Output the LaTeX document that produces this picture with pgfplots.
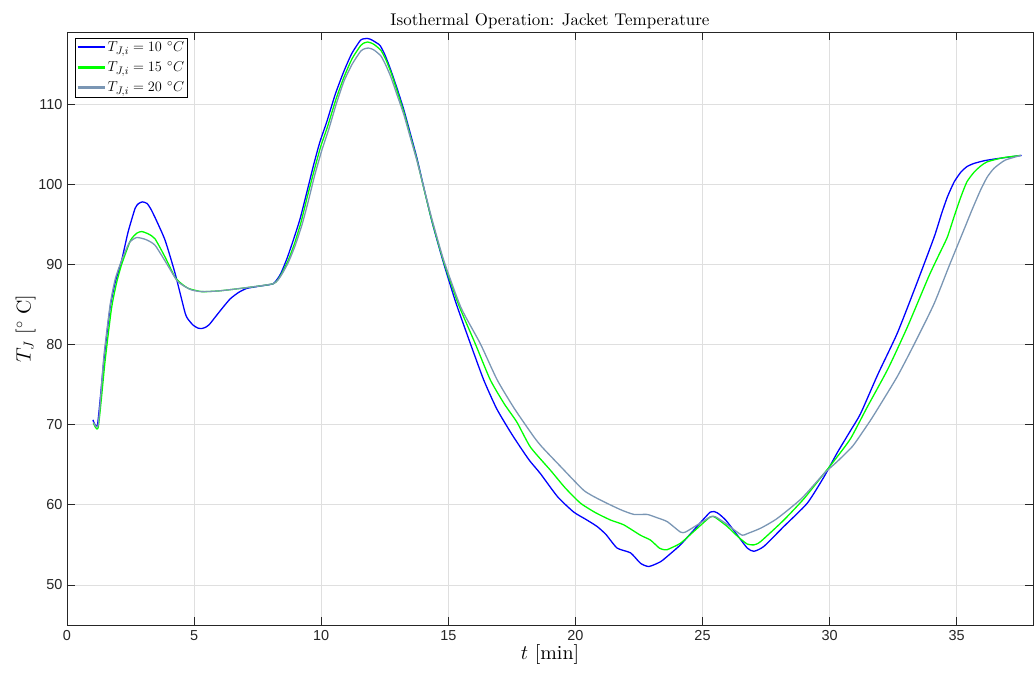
\documentclass[border=0pt]{standalone}
\usepackage{pgfplots}
\pgfplotsset{compat=1.18}
\usepackage{fontspec}
\setmainfont{lmroman10-regular.otf}[ItalicFont=lmroman10-italic.otf, BoldFont=lmroman10-bold.otf]
\newfontfamily\ticksf{Liberation Sans}
\definecolor{axgray}{RGB}{38,38,38}
\definecolor{gridc}{RGB}{223,223,223}
\definecolor{sgray}{RGB}{122,150,180}
\begin{document}
\begin{tikzpicture}
\useasboundingbox (-67bp,-48bp) rectangle (967bp,625bp);
\begin{axis}[
  at={(0,0)}, anchor=south west,
  width=966bp, height=593bp, scale only axis,
  xmin=0, xmax=38, ymin=45, ymax=119,
  xtick={0,5,...,35}, ytick={50,60,...,110},
  grid=major, major grid style={gridc, line width=0.6bp},
  axis line style={axgray, line width=0.6bp},
  tick style={axgray, line width=0.6bp},
  major tick length=8bp,
  tick align=inside,
  xtick pos=both, ytick pos=both,
  /pgf/number format/assume math mode=true,
  ticklabel style={font=\ticksf\fontsize{14.5}{15}\selectfont, text=axgray},
  xticklabel style={yshift=-2bp},
  yticklabel style={xshift=-1bp},
  title={Isothermal Operation: Jacket Temperature},
  title style={font=\fontsize{17}{18}\selectfont, yshift=-6bp},
  xlabel={$t$ [min]},
  ylabel={$T_J$ [$^\circ$ C]},
  xlabel style={font=\fontsize{20}{21}\selectfont, yshift=3bp},
  ylabel style={font=\fontsize{20}{21}\selectfont, yshift=-4bp},
  legend style={font=\fontsize{15.5}{16}\selectfont,
    inner sep=1.5bp, row sep=4.5bp, nodes={inner sep=2bp},
    at={(0.008,0.99)}, anchor=north west},
  legend cell align=left,
  legend image code/.code={\draw[#1, line width=2.2bp] (0bp,0bp) -- (27bp,0bp);},
]
\addplot[blue, line width=1.3bp, smooth, tension=0.35] coordinates {
(1.02,70.6)(1.2,70.0)(1.45,78)(1.7,84.7)(1.9,87.8)(2.15,90.5)(2.4,94.0)(2.68,97.0)(2.82,97.6)(2.97,97.8)(3.15,97.6)
(3.3,96.9)(3.5,95.6)(3.86,93.0)(4.25,88.9)(4.65,83.9)(4.8,83.0)(4.97,82.4)(5.15,82.05)(5.3,82.0)(5.45,82.15)(5.6,82.5)(5.8,83.3)
(6.1,84.5)(6.42,85.7)(6.75,86.5)(7.07,87.0)(7.6,87.3)(8.12,87.6)(8.4,88.8)(8.65,90.7)
(8.9,93.0)(9.17,95.7)(9.45,99.2)(9.7,102.4)(9.95,105.3)(10.22,107.8)(10.55,111.2)(10.88,114.0)(11.2,116.3)(11.54,117.96)(11.68,118.15)(11.8,118.2)(11.93,118.1)(12.05,117.9)
(12.2,117.6)(12.32,117.3)(12.5,116.2)(12.72,114.4)(13.0,111.8)(13.24,109.4)(13.5,106.4)(13.77,103.2)(14.05,99.4)(14.36,95.3)(14.82,90.1)(15.3,85.2)
(15.87,80.1)(16.39,75.6)(16.9,72.0)(17.44,69.1)(17.83,67.2)(18.2,65.5)(18.62,63.9)(19.3,61.0)
(19.93,59.1)(20.4,58.2)(20.85,57.3)(21.2,56.3)(21.64,54.6)(22.17,54.0)(22.56,52.7)
(22.89,52.3)(23.35,52.9)(23.7,53.8)(24.13,55.0)(24.7,57.0)(25.31,59.1)(25.58,59.0)
(25.91,58.1)(26.3,56.5)(26.76,54.6)(27.02,54.2)(27.41,54.8)(28.2,57.3)(29.12,60.2)
(29.78,63.5)(30.3,66.5)(30.83,69.3)(31.22,71.4)(31.9,76.3)(32.66,81.4)(33.4,87.4)
(34.11,93.4)(34.4,96.3)(34.63,98.4)(34.9,100.3)(35.16,101.5)(35.4,102.2)(35.68,102.6)(36.1,102.95)(36.6,103.2)(37.55,103.6)
};
\addlegendentry{$T_{J,i} = 10\ ^\circ C$}
\addplot[green, line width=1.3bp, smooth, tension=0.35] coordinates {
(1.04,70.2)(1.23,69.7)(1.5,78)(1.75,84.5)(1.95,87.7)(2.15,90.0)(2.5,93.0)(2.75,93.9)(2.94,94.1)(3.2,93.8)
(3.46,93.2)(3.86,90.9)(4.25,88.4)(4.5,87.6)(4.78,87.0)(5.3,86.6)(6.0,86.7)(7.07,87.1)(8.12,87.6)
(8.4,88.6)(8.7,90.5)(8.95,92.6)(9.2,95.2)(9.45,98.4)(9.72,101.7)(9.98,104.7)(10.25,107.2)(10.58,110.6)(10.9,113.4)(11.22,115.7)(11.55,117.3)(11.7,117.65)
(11.82,117.75)(11.95,117.65)(12.1,117.4)(12.35,116.7)(12.55,115.5)(12.75,113.9)(13.0,111.5)(13.25,109.0)(13.5,106.1)(13.77,103.0)(14.05,99.3)
(14.36,95.4)(14.82,90.3)(15.4,85.0)(16.06,80.1)(16.65,75.6)(17.2,72.6)(17.7,70.3)
(18.23,67.2)(19.02,64.3)(19.6,62.1)(20.2,60.2)(20.8,59.0)(21.38,58.1)(21.9,57.5)(22.56,56.2)
(22.95,55.6)(23.3,54.6)(23.48,54.4)(23.61,54.4)(24.13,55.2)(24.7,56.8)(25.31,58.5)
(25.51,58.4)(25.97,57.3)(26.4,56.0)(26.76,55.1)(27.02,55.0)(27.28,55.4)(28.2,58.1)
(29.0,60.8)(29.78,63.9)(30.3,66.0)(30.83,68.3)(31.48,72.2)(32.3,77.0)(33.06,82.2)(33.9,88.5)
(34.3,91.2)(34.63,93.4)(34.9,96.0)(35.16,98.4)(35.4,100.3)(35.68,101.5)(35.95,102.3)(36.2,102.8)(36.8,103.3)(37.52,103.6)
};
\addlegendentry{$T_{J,i} = 15\ ^\circ C$}
\addplot[sgray, line width=1.3bp, smooth, tension=0.35] coordinates {
(1.04,70.3)(1.23,70.0)(1.45,78.5)(1.7,85.0)(1.9,88.2)(2.15,90.5)(2.45,92.7)(2.74,93.35)(3.1,93.1)
(3.46,92.4)(3.92,90.1)(4.32,88.0)(4.6,87.3)(4.91,86.8)(5.3,86.6)(6.0,86.7)(7.07,87.1)(8.12,87.6)
(8.4,88.5)(8.7,90.2)(8.97,92.3)(9.25,95.0)(9.5,98.0)(9.75,101.2)(10.02,104.2)(10.3,106.9)(10.6,110.1)(10.9,112.9)(11.22,115.0)(11.55,116.6)(11.7,116.9)
(11.85,117.0)(11.98,116.9)(12.1,116.7)(12.35,116.0)(12.55,114.8)(12.75,113.3)(13.0,111.0)(13.25,108.7)(13.5,105.9)(13.77,102.9)(14.05,99.4)
(14.36,95.6)(14.82,90.5)(15.5,84.6)(16.26,80.1)(16.92,75.6)(17.6,72.0)(18.36,68.5)
(18.69,67.2)(19.41,64.8)(20.33,61.8)(20.98,60.6)(21.77,59.4)(22.3,58.8)(22.82,58.8)
(23.2,58.4)(23.61,57.9)(24.13,56.6)(24.33,56.6)(24.8,57.5)(25.31,58.5)(25.51,58.5)
(25.9,57.7)(26.23,56.9)(26.56,56.2)(26.76,56.4)(27.3,57.1)(27.94,58.3)(28.9,60.8)
(29.78,63.9)(30.3,65.4)(30.9,67.3)(31.3,69.1)(31.7,71.0)(32.66,76.0)(33.4,80.5)(34.11,85.1)
(34.7,89.8)(35.28,94.3)(35.6,96.8)(35.94,99.3)(36.2,100.9)(36.47,102.0)(36.9,103.0)
(37.52,103.6)
};
\addlegendentry{$T_{J,i} = 20\ ^\circ C$}
\end{axis}
\end{tikzpicture}
\end{document}
